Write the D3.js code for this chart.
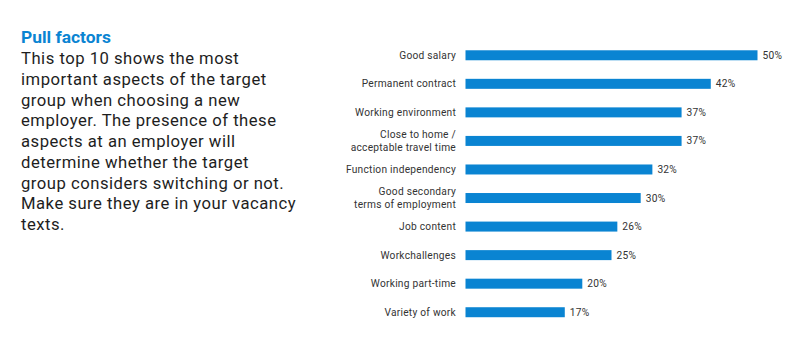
<!DOCTYPE html>
<html>
<head>
<meta charset="utf-8">
<script src="https://cdn.jsdelivr.net/npm/d3@7"></script>
<style>
  html, body { margin: 0; padding: 0; background: #ffffff; }
  svg { display: block; }
</style>
</head>
<body>
<svg id="chart" width="800" height="350"></svg>
<script>
const titleText = "Pull factors";
const bodyLines = [
  "This top 10 shows the most",
  "important aspects of the target",
  "group when choosing a new",
  "employer. The presence of these",
  "aspects at an employer will",
  "determine whether the target",
  "group considers switching or not.",
  "Make sure they are in your vacancy",
  "texts."
];
const categories = [
  "Good salary",
  "Permanent contract",
  "Working environment",
  "Close to home /\nacceptable travel time",
  "Function independency",
  "Good secondary\nterms of employment",
  "Job content",
  "Workchallenges",
  "Working part-time",
  "Variety of work"
];
const values = [50, 42, 37, 37, 32, 30, 26, 25, 20, 17];

const blue = "#0a84d2";
const font = "Roboto, 'Open Sans', sans-serif";
const svg = d3.select("#chart");

function fitWidth(sel, size, target) {
  let w = 0;
  sel.each(function() { w = Math.max(w, this.getComputedTextLength()); });
  sel.attr("font-size", size * target / w);
}

// Left text block
const title = svg.append("text")
  .attr("x", 21).attr("y", 43)
  .attr("font-family", font).attr("font-weight", 700)
  .attr("font-size", 16).attr("fill", blue)
  .text(titleText);
fitWidth(title, 16, 90);

const bodyText = svg.append("g").selectAll("text").data(bodyLines).join("text")
  .attr("x", 21)
  .attr("y", (d, i) => 64 + i * 20.75)
  .attr("font-family", font).attr("font-size", 17)
  .attr("letter-spacing", 0.5)
  .attr("fill", "#1e1e1e")
  .text(d => d);
fitWidth(bodyText, 17, 275);

// Bars
const x = d3.scaleLinear().domain([0, 50]).range([465.5, 757.5]);
const y = d3.scaleBand().domain(categories).range([41, 326.5])
  .paddingInner(0.65).paddingOuter(0.325);

svg.append("g").selectAll("rect").data(categories).join("rect")
  .attr("x", x(0))
  .attr("y", d => y(d))
  .attr("width", (d, i) => x(values[i]) - x(0))
  .attr("height", y.bandwidth())
  .attr("fill", blue);

const labelSize = 10.2;
const lineH = 12.3;
const labelRows = [];
categories.forEach(c => {
  const lines = c.split("\n");
  lines.forEach((ln, k) => labelRows.push({ c, ln, off: k - (lines.length - 1) / 2 }));
});
svg.append("g").selectAll("text").data(labelRows).join("text")
  .attr("x", 456)
  .attr("y", d => y(d.c) + y.bandwidth() / 2 + d.off * lineH)
  .attr("dy", "0.35em")
  .attr("text-anchor", "end")
  .attr("font-family", font).attr("font-size", labelSize)
  .attr("letter-spacing", 0.25)
  .attr("fill", "#333333")
  .text(d => d.ln);

svg.append("g").selectAll("text").data(categories).join("text")
  .attr("x", (d, i) => x(values[i]) + 5)
  .attr("y", d => y(d) + y.bandwidth() / 2)
  .attr("dy", "0.35em")
  .attr("font-family", font).attr("font-size", labelSize)
  .attr("letter-spacing", 0.25)
  .attr("fill", "#333333")
  .text((d, i) => values[i] + "%");
</script>
</body>
</html>
